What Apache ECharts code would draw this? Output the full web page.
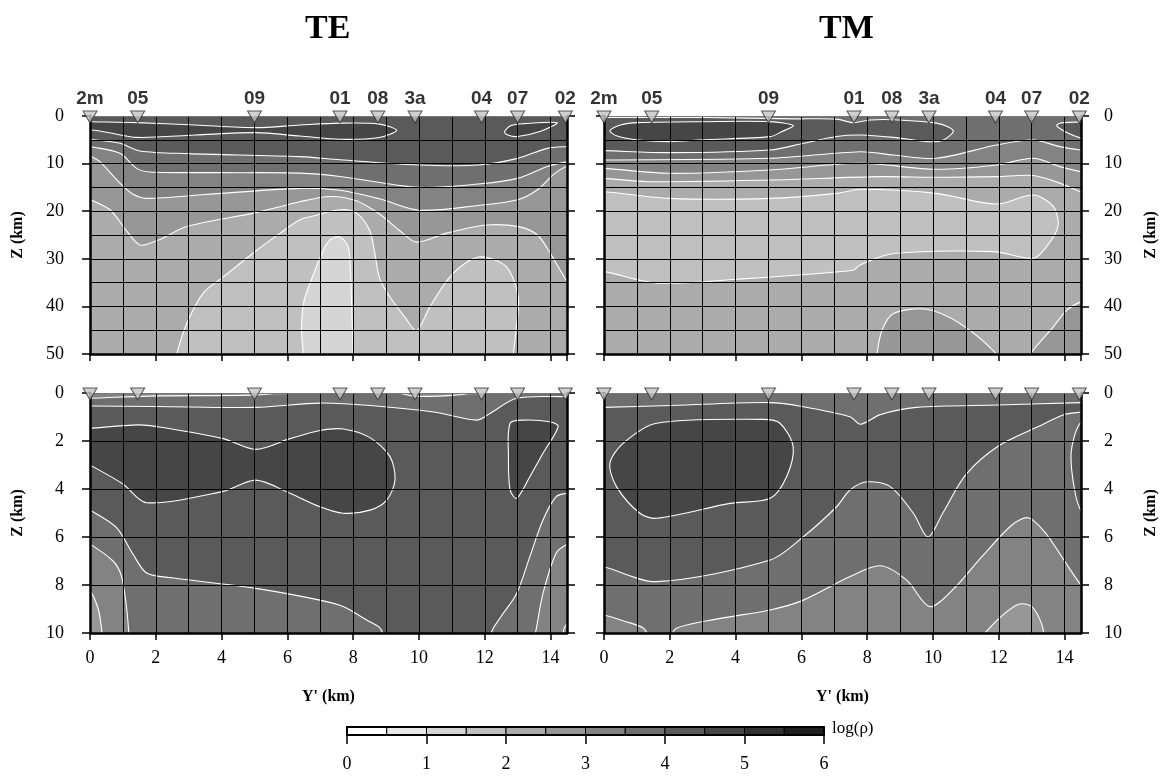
<!doctype html>
<html lang="en">
<head>
    <meta charset="UTF-8">
    <title>TE / TM resistivity sections</title>
    <script src="https://cdn.jsdelivr.net/npm/echarts@6/dist/echarts.min.js"></script>
    <style>
        html, body { margin: 0; padding: 0; background: #fff; }
        #chart { width: 1168px; height: 776px; }
    </style>
</head>
<body>
<div id="chart"></div>
<script>
    // stations along the profile (km)
    const stations = ['2m', '05', '09', '01', '08', '3a', '04', '07', '02'];
    const stationY = [0, 1.45, 5.0, 7.6, 8.75, 9.88, 11.9, 13.0, 14.45];

    // colour scale: 12 bands of 0.5 in log(rho), 0..6
    const bandEdges = [0, 0.5, 1, 1.5, 2, 2.5, 3, 3.5, 4, 4.5, 5, 5.5, 6];
    const bandGray = ['#ffffff', '#e8e8e8', '#d5d5d5', '#c0c0c0', '#ababab', '#979797',
        '#838383', '#6f6f6f', '#5a5a5a', '#464646', '#323232', '#1e1e1e'];
    const barTicks = [0, 1, 2, 3, 4, 5, 6];

    // ---- TE, 0-50 km : contour lines [Y', Z] ----
    const teTopK3 = [[2.55, 52], [2.63, 50], [2.94, 43.6], [3.44, 37.2], [4.05, 33.8], [5.07, 28.2], [5.78, 24.6],
        [6.38, 21.8], [6.79, 21.0], [7.6, 19.7], [8.1, 20.4], [8.5, 24.0], [8.65, 28.5], [8.8, 34.0], [9.1, 37.8],
        [9.6, 42.5], [9.93, 45.1], [10.33, 40.1], [10.94, 33.8], [11.5, 30.5], [11.95, 29.6], [12.66, 31.7],
        [13.02, 38], [12.95, 45], [12.87, 50], [12.85, 52]];
    const teTopK2 = [[6.48, 52], [6.48, 50], [6.43, 44.3], [6.5, 39], [6.69, 35.1], [7.09, 28.2], [7.3, 26],
        [7.6, 25.4], [7.85, 27.5], [7.92, 33], [7.95, 38.7], [8.0, 50], [8.0, 52]];
    const teTopK45 = [[-0.3, 16.5], [0, 17.5], [0.61, 19.7], [1.1, 24], [1.52, 27.1], [2.1, 26.0], [2.94, 23.2],
        [5.04, 20.3], [6.38, 18.0], [7.3, 16.9], [8.1, 17.8], [8.8, 20.6], [9.4, 24.0], [9.93, 26.5], [10.84, 24.6],
        [12.06, 22.9], [13.07, 23.3], [13.6, 25.0], [13.9, 27.8], [14.5, 34.8], [14.8, 38]];
    const teTopK56 = [[-0.3, 7.5], [0, 8.4], [0.3, 9.6], [0.91, 14.1], [1.3, 16.4], [1.72, 17.3], [3.5, 16.5],
        [6.38, 15.2], [7.6, 15.6], [8.8, 17.4], [10.0, 19.8], [11.8, 18.8], [13.0, 17.6], [13.6, 15.5],
        [14.1, 12.2], [14.5, 10.5], [14.8, 10]];
    const teTopK67 = [[-0.3, 6], [0, 6.4], [0.91, 7.84], [1.42, 11.0], [1.82, 11.76], [4, 11.9], [6.38, 12.0],
        [7.6, 12.7], [10, 15], [11.8, 14.3], [13, 13.1], [13.9, 10.6], [14.5, 9.6], [14.8, 9.3]];
    const teTopK78 = [[-0.3, 4.7], [0, 4.9], [0.91, 5.74], [1.52, 7.35], [3, 7.9], [6.38, 8.54], [7.6, 9.2],
        [10, 10.3], [11.8, 10.3], [13, 8.9], [13.9, 6.8], [14.5, 6.4], [14.8, 6.3]];
    const teTopK9a = [[-0.3, 1.15], [0, 1.2], [1.42, 1.4], [3.2, 1.9], [5.04, 2.45], [6.38, 1.9], [7.6, 1.5],
        [8.8, 1.7], [9.32, 3.0], [8.8, 4.5], [7.6, 4.9], [6.38, 4.2], [5.04, 3.5], [3.2, 4.0], [1.42, 4.5],
        [0.5, 3.4], [0, 2.9], [-0.3, 2.7]];
    const teTopK9b = [[12.6, 3.3], [12.8, 2.0], [13.2, 1.6], [14.2, 1.4], [13.7, 3.2], [13.0, 4.3], [12.7, 4.0]];

    // ---- TM, 0-50 km ----
    const tmTopK45 = [[-0.3, 13], [0, 13.1], [1.35, 13.8], [5.05, 13.45], [8.39, 12.74], [10.1, 12.88],
        [11.93, 12.74], [13.05, 12.5], [13.86, 14.1], [14.48, 15.9], [14.8, 16.5]];
    const tmTopK56 = [[-0.3, 11], [0, 11.0], [2.0, 12.04], [5.05, 11.34], [7.78, 9.94], [10.1, 11.2],
        [11.93, 10.29], [13.05, 8.89], [13.86, 10.64], [14.48, 11.69], [14.8, 12]];
    const tmTopK67 = [[-0.3, 9.2], [0, 9.24], [5.05, 8.89], [7.78, 7.5], [8.8, 8.19], [10.1, 8.89],
        [11.93, 6.09], [13.05, 5.04], [13.86, 6.44], [14.48, 7.14], [14.8, 7.3]];
    const tmTopK8 = [[-0.3, 0.3], [0, 0.3], [3, 0.3], [5.75, 0.6], [7.07, 0.65], [7.58, 1.4], [8.08, 0.85],
        [8.8, 0.8], [10.1, 1.5], [10.5, 2.4], [10.62, 3.3], [10.3, 5.1], [9.9, 5.4], [8.8, 4.5], [7.8, 4.0],
        [7.07, 4.3], [6.06, 5.74], [5.05, 7.14], [2.0, 7.7], [0, 7.28], [-0.3, 7.25]];
    const tmTopK9 = [[0.18, 3.1], [0.5, 1.9], [1.04, 1.4], [3, 1.2], [5.05, 1.19], [5.75, 2.0], [5.4, 3.3],
        [5.05, 4.34], [3, 5.0], [2.0, 5.39], [1.04, 5.04], [0.4, 4.2]];
    const tmTopK3 = [[-0.3, 15.9], [0.03, 15.9], [2.0, 17.3], [5.05, 17.3], [7.07, 16.25], [7.8, 15.4],
        [10.1, 16.25], [11.93, 18.5], [13.05, 16.6], [13.66, 19.0], [13.8, 23.2], [13.46, 27.4], [13.05, 29.9],
        [11.84, 28.5], [8.8, 28.9], [7.78, 31.3], [7.58, 32.4], [4.03, 34.3], [1.6, 35.1], [0.03, 32.7], [-0.3, 32.5]];
    const tmTopK5a = [[8.3, 52], [8.3, 50], [8.45, 45], [8.8, 41.5], [9.81, 40.6], [10.82, 43.6], [11.93, 50], [11.95, 52]];
    const tmTopK5b = [[12.9, 52], [12.96, 50], [13.66, 44.3], [14.07, 40.8], [14.48, 39.1], [14.8, 38.8]];
    const tmTopK8b = [[14.8, 1.2], [14.48, 1.25], [13.9, 1.45], [13.76, 2.0], [14.0, 3.2], [14.48, 4.6], [14.8, 4.8]];

    // ---- TE, 0-10 km ----
    const teBotK7a = [[-0.3, 4.7], [0, 4.88], [0.8, 5.6], [1.3, 6.7], [1.72, 7.5], [2.5, 7.7], [5.04, 8.14],
        [6.99, 8.63], [7.7, 8.9], [8.41, 9.46], [8.82, 9.8], [8.95, 10.3]];
    const teBotK6a = [[-0.3, 6.1], [0, 6.29], [0.7, 7.0], [0.95, 7.6], [1.1, 8.8], [1.17, 9.8], [1.19, 10.3]];
    const teBotK5a = [[-0.3, 8.1], [0, 8.24], [0.25, 9.0], [0.35, 9.8], [0.37, 10.3]];
    const teBotK7b = [[14.8, 4.1], [14.48, 4.18], [14.17, 4.32], [13.77, 5.29], [13.37, 6.82], [12.97, 8.35],
        [12.5, 9.3], [12.26, 9.8], [12.1, 10.3]];
    const teBotK6b = [[14.8, 6.2], [14.48, 6.32], [14.17, 6.67], [13.77, 8.35], [13.57, 9.8], [13.5, 10.3]];
    const teBotK5b = [[14.8, 9.5], [14.45, 9.7], [14.35, 10.3]];
    const teBotSurf = [[-0.3, 0.54], [0, 0.54], [2.03, 0.56], [5.04, 0.6], [6.99, 0.42], [8.69, 0.54],
        [10.5, 0.8], [11.75, 1.13], [12.16, 0.85], [12.97, 0.22], [14.48, 0.15], [14.8, 0.15]];
    const teBotSurfA = [[-0.3, 0.22], [0, 0.22], [2.03, 0.12], [5.04, 0.08], [6.3, -0.1]];
    const teBotSurfB = [[9.2, -0.1], [9.8, 0.12], [11, 0.1], [12.1, -0.1]];
    const teBotK9a = [[-0.3, 1.5], [0, 1.47], [1.47, 1.33], [2.03, 1.4], [4.05, 1.9], [5.04, 2.35], [6.08, 1.9],
        [6.99, 1.56], [7.7, 1.5], [8.51, 1.86], [9.12, 2.65], [9.27, 3.63], [9.02, 4.46], [8.51, 4.88], [7.7, 5.01],
        [6.99, 4.74], [6.08, 4.18], [5.04, 3.63], [4.05, 4.1], [1.72, 4.57], [1.01, 3.8], [0, 3.0], [-0.3, 2.8]];
    const teBotK9b = [[12.72, 2.65], [12.77, 1.26], [13.17, 1.13], [13.98, 1.2], [14.23, 1.4], [13.77, 2.51],
        [13.37, 3.49], [12.97, 4.39], [12.77, 4.04]];

    // ---- TM, 0-10 km ----
    const tmBotK7 = [[-0.3, 7.2], [0, 7.24], [1.6, 7.86], [5.05, 6.96], [6.06, 5.99], [7.07, 4.74], [7.48, 4.04],
        [8.0, 3.7], [8.7, 3.9], [9.4, 5.0], [9.85, 6.0], [10.3, 5.0], [11.0, 3.4], [12.0, 2.2], [13.2, 1.4],
        [14.0, 0.9], [14.5, 0.8], [14.8, 0.8]];
    const tmBotK6a = [[-0.3, 9.2], [0, 9.25], [0.6, 9.5], [1.2, 9.8], [1.4, 10.3]];
    const tmBotK6b = [[2.0, 10.3], [2.2, 9.8], [3.5, 9.4], [5.05, 9.04], [6.06, 8.63], [7.48, 7.65], [8.4, 7.2],
        [9.2, 7.8], [9.9, 8.9], [10.6, 8.2], [11.5, 6.8], [12.4, 5.5], [12.9, 5.2], [13.4, 5.8], [14.0, 7.0],
        [14.5, 8.0], [14.8, 8.3]];
    const tmBotK5 = [[11.4, 10.3], [12.0, 9.4], [12.6, 8.8], [13.0, 8.9], [13.3, 9.6], [13.4, 10.3]];
    const tmBotSurf = [[-0.3, 0.6], [0, 0.6], [2.5, 0.5], [5.05, 0.4], [6.06, 0.57], [7.48, 0.99], [7.8, 1.3],
        [8.4, 0.9], [9.5, 0.6], [12, 0.5], [14.5, 0.4], [14.8, 0.4]];
    const tmBotK9 = [[0.18, 2.93], [0.58, 2.1], [1.6, 1.26], [4.84, 1.1], [5.35, 1.26], [5.75, 2.24], [5.55, 3.49],
        [5.05, 4.39], [3.83, 4.6], [1.6, 5.22], [1.09, 5.01], [0.38, 3.9]];
    const tmBotK8 = [[14.8, 1.2], [14.45, 1.3], [14.2, 2.5], [14.3, 4.0], [14.5, 4.9], [14.8, 5.1]];

    // closing points outside the frame (clipped away), to turn a contour into a filled area
    function above(c) { return [[c[c.length - 1][0] + 1, -6], [c[0][0] - 1, -6]]; }
    function below(c, zb) { return [[c[c.length - 1][0] + 1, zb], [c[0][0] - 1, zb]]; }
    function leftSide(c) { return [[-1.5, c[c.length - 1][1]], [-1.5, c[0][1]]]; }
    function rightSide(c) { return [[15.5, c[c.length - 1][1]], [15.5, c[0][1]]]; }
    const frameTop = [[-2, -6], [16, -6], [16, 56], [-2, 56]];
    const frameBot = [[-2, -2], [16, -2], [16, 12], [-2, 12]];

    // painter order: {lvl, curve, edge}; edge null = closed contour
    const teTopRegions = [
        {lvl: 4, curve: [], edge: frameTop},
        {lvl: 3, curve: teTopK3, edge: below(teTopK3, 58)},
        {lvl: 2, curve: teTopK2, edge: below(teTopK2, 58)},
        {lvl: 5, curve: teTopK45, edge: above(teTopK45)},
        {lvl: 6, curve: teTopK56, edge: above(teTopK56)},
        {lvl: 7, curve: teTopK67, edge: above(teTopK67)},
        {lvl: 8, curve: teTopK78, edge: above(teTopK78)},
        {lvl: 9, curve: teTopK9a, edge: leftSide(teTopK9a)},
        {lvl: 9, curve: teTopK9b, edge: null}
    ];
    const tmTopRegions = [
        {lvl: 4, curve: [], edge: frameTop},
        {lvl: 3, curve: tmTopK3, edge: leftSide(tmTopK3)},
        {lvl: 5, curve: tmTopK5a, edge: below(tmTopK5a, 58)},
        {lvl: 5, curve: tmTopK5b, edge: [[15.5, 38.8], [15.5, 58], [12.9, 58]]},
        {lvl: 5, curve: tmTopK45, edge: above(tmTopK45)},
        {lvl: 6, curve: tmTopK56, edge: above(tmTopK56)},
        {lvl: 7, curve: tmTopK67, edge: above(tmTopK67)},
        {lvl: 8, curve: tmTopK8, edge: leftSide(tmTopK8)},
        {lvl: 9, curve: tmTopK9, edge: null},
        {lvl: 8, curve: tmTopK8b, edge: rightSide(tmTopK8b)}
    ];
    const teBotRegions = [
        {lvl: 8, curve: [], edge: frameBot},
        {lvl: 7, curve: teBotK7a, edge: [[8.95, 12], [-1.5, 12], [-1.5, 4.7]]},
        {lvl: 6, curve: teBotK6a, edge: [[1.19, 12], [-1.5, 12], [-1.5, 6.1]]},
        {lvl: 5, curve: teBotK5a, edge: [[0.37, 12], [-1.5, 12], [-1.5, 8.1]]},
        {lvl: 7, curve: teBotK7b, edge: [[12.1, 12], [15.5, 12], [15.5, 4.1]]},
        {lvl: 6, curve: teBotK6b, edge: [[13.5, 12], [15.5, 12], [15.5, 6.2]]},
        {lvl: 5, curve: teBotK5b, edge: [[14.35, 12], [15.5, 12], [15.5, 9.5]]},
        {lvl: 7, curve: teBotSurf, edge: [[15.5, -2], [-1.5, -2]]},
        {lvl: 6, curve: teBotSurfA, edge: [[6.3, -2], [-1.5, -2]]},
        {lvl: 6, curve: teBotSurfB, edge: [[12.1, -2], [9.2, -2]]},
        {lvl: 9, curve: teBotK9a, edge: leftSide(teBotK9a)},
        {lvl: 9, curve: teBotK9b, edge: null}
    ];
    const tmBotRegions = [
        {lvl: 8, curve: [], edge: frameBot},
        {lvl: 7, curve: tmBotK7, edge: [[15.5, 0.8], [15.5, 12], [-1.5, 12], [-1.5, 7.2]]},
        {lvl: 6, curve: tmBotK6a, edge: [[1.4, 12], [-1.5, 12], [-1.5, 9.2]]},
        {lvl: 6, curve: tmBotK6b, edge: [[15.5, 8.3], [15.5, 12], [2.0, 12]]},
        {lvl: 5, curve: tmBotK5, edge: [[13.4, 12], [11.4, 12]]},
        {lvl: 7, curve: tmBotSurf, edge: [[15.5, -2], [-1.5, -2]]},
        {lvl: 9, curve: tmBotK9, edge: null},
        {lvl: 8, curve: tmBotK8, edge: rightSide(tmBotK8)}
    ];

    const serif = 'Liberation Serif, Times New Roman, serif';
    const sans = 'Liberation Sans, Arial, sans-serif';

    const panels = [
        {left: 90, top: 116, height: 238, zmax: 50, gridStep: 5, tickStep: 10, side: 'left', xLabels: false, regions: teTopRegions, names: true},
        {left: 604, top: 116, height: 238, zmax: 50, gridStep: 5, tickStep: 10, side: 'right', xLabels: false, regions: tmTopRegions, names: true},
        {left: 90, top: 393, height: 240, zmax: 10, gridStep: 2, tickStep: 2, side: 'left', xLabels: true, regions: teBotRegions, names: false},
        {left: 604, top: 393, height: 240, zmax: 10, gridStep: 2, tickStep: 2, side: 'right', xLabels: true, regions: tmBotRegions, names: false}
    ];

    function renderRegion(regions) {
        return function (params, api) {
            const r = regions[params.dataIndex];
            const pts = r.curve.map(p => api.coord(p));
            const fill = bandGray[r.lvl];
            if (r.edge === null) {
                return {type: 'polygon', shape: {points: pts, smooth: 0.3},
                    style: {fill: fill, stroke: '#fff', lineWidth: 1.1}};
            }
            const poly = pts.concat(r.edge.map(p => api.coord(p)));
            const children = [{type: 'polygon', shape: {points: poly, smooth: pts.length ? 0.3 : 0}, style: {fill: fill}}];
            if (pts.length) {
                children.push({type: 'polyline', shape: {points: pts, smooth: 0.3},
                    style: {stroke: '#fff', lineWidth: 1.1, fill: null}});
            }
            return {type: 'group', children: children};
        };
    }

    const grids = [], xAxes = [], yAxes = [], series = [];
    panels.forEach(function (p, i) {
        grids.push({left: p.left, top: p.top, width: 477, height: p.height, show: false});
        // grid lines
        xAxes.push({gridIndex: i, type: 'value', min: 0, max: 14.5, interval: 1, z: 5,
            axisLine: {show: false}, axisTick: {show: false}, axisLabel: {show: false},
            splitLine: {show: true, lineStyle: {color: '#000', width: 1}}});
        // bottom ticks / labels
        xAxes.push({gridIndex: i, type: 'value', min: 0, max: 14.5, interval: 2, position: 'bottom', z: 6,
            axisLine: {show: true, onZero: false, lineStyle: {color: '#000', width: 2.5}},
            axisTick: {show: true, length: 7, lineStyle: {color: '#000', width: 1.5}},
            axisLabel: {show: p.xLabels, showMaxLabel: false, margin: 16, fontFamily: serif, fontSize: 18, color: '#000'},
            splitLine: {show: false},
            name: p.xLabels ? "Y' (km)" : '', nameLocation: 'middle', nameGap: 56,
            nameTextStyle: {fontFamily: serif, fontSize: 16, fontWeight: 'bold', color: '#000'}});
        // top frame
        xAxes.push({gridIndex: i, type: 'value', min: 0, max: 14.5, position: 'top', z: 6,
            axisLine: {show: true, onZero: false, lineStyle: {color: '#777', width: 1}},
            axisTick: {show: false}, axisLabel: {show: false}, splitLine: {show: false}});

        yAxes.push({gridIndex: i, type: 'value', min: 0, max: p.zmax, interval: p.gridStep, inverse: true, z: 5,
            axisLine: {show: false}, axisTick: {show: false}, axisLabel: {show: false},
            splitLine: {show: true, lineStyle: {color: '#000', width: 1}}});
        ['left', 'right'].forEach(function (pos) {
            const lab = pos === p.side;
            yAxes.push({gridIndex: i, type: 'value', min: 0, max: p.zmax, interval: p.tickStep, inverse: true,
                position: pos, z: 6,
                axisLine: {show: true, onZero: false, lineStyle: {color: '#000', width: 2.5}},
                axisTick: {show: true, length: 8, lineStyle: {color: '#000', width: 1.5}},
                axisLabel: {show: lab, margin: pos === 'left' ? 26 : 23, fontFamily: serif, fontSize: 18, color: '#000'},
                splitLine: {show: false},
                name: lab ? 'Z (km)' : '', nameLocation: 'middle', nameGap: pos === 'left' ? 64 : 62,
                nameRotate: 90,
                nameTextStyle: {fontFamily: serif, fontSize: 16, fontWeight: 'bold', color: '#000'}});
        });

        series.push({type: 'custom', xAxisIndex: 3 * i, yAxisIndex: 3 * i, clip: true, z: 2,
            renderItem: renderRegion(p.regions),
            data: p.regions.map((r, k) => [k % 14, 0])});

        series.push({type: 'scatter', xAxisIndex: 3 * i, yAxisIndex: 3 * i, z: 10, clip: false,
            symbol: 'triangle', symbolRotate: 180, symbolSize: [14, 12], symbolOffset: [0, 1],
            itemStyle: {color: '#c4c4c4', borderColor: '#333', borderWidth: 1},
            label: {show: p.names, position: 'top', distance: 2, formatter: d => d.data[2],
                fontFamily: sans, fontWeight: 'bold', fontSize: 19, color: '#000'},
            data: stations.map((s, k) => [stationY[k], 0, s])});
    });

    // colour bar
    grids.push({left: 347, top: 727, width: 477, height: 8, show: true, borderColor: '#000', borderWidth: 2, z: 10});
    xAxes.push({gridIndex: 4, type: 'value', min: 0, max: 6, interval: 1, position: 'bottom',
        axisLine: {show: false}, axisTick: {show: true, length: 9, lineStyle: {color: '#000', width: 1.5}},
        axisLabel: {show: true, margin: 20, fontFamily: serif, fontSize: 18, color: '#000',
            formatter: v => barTicks.indexOf(v) >= 0 ? String(v) : ''},
        splitLine: {show: false}});
    yAxes.push({gridIndex: 4, type: 'value', min: 0, max: 1, show: false});
    series.push({type: 'custom', xAxisIndex: xAxes.length - 1, yAxisIndex: yAxes.length - 1, z: 2,
        renderItem: function (params, api) {
            const a = api.coord([api.value(0), 1]);
            const b = api.coord([api.value(1), 0]);
            return {type: 'rect', shape: {x: a[0], y: a[1], width: b[0] - a[0], height: b[1] - a[1]},
                style: {fill: bandGray[api.value(2)], stroke: '#000', lineWidth: 1}};
        },
        data: bandGray.map((g, k) => [bandEdges[k], bandEdges[k + 1], k])});

    const option = {
        animation: false,
        backgroundColor: '#fff',
        grid: grids,
        xAxis: xAxes,
        yAxis: yAxes,
        series: series,
        graphic: [
            {type: 'text', left: 305, top: 12, style: {text: 'TE', font: 'bold 34px ' + serif, fill: '#000'}},
            {type: 'text', left: 819, top: 12, style: {text: 'TM', font: 'bold 34px ' + serif, fill: '#000'}},
            {type: 'text', left: 832, top: 720, style: {text: 'log(ρ)', font: '17px ' + serif, fill: '#000'}}
        ]
    };

    const chart = echarts.init(document.getElementById('chart'), null, {renderer: 'canvas'});
    chart.setOption(option);
</script>
</body>
</html>
